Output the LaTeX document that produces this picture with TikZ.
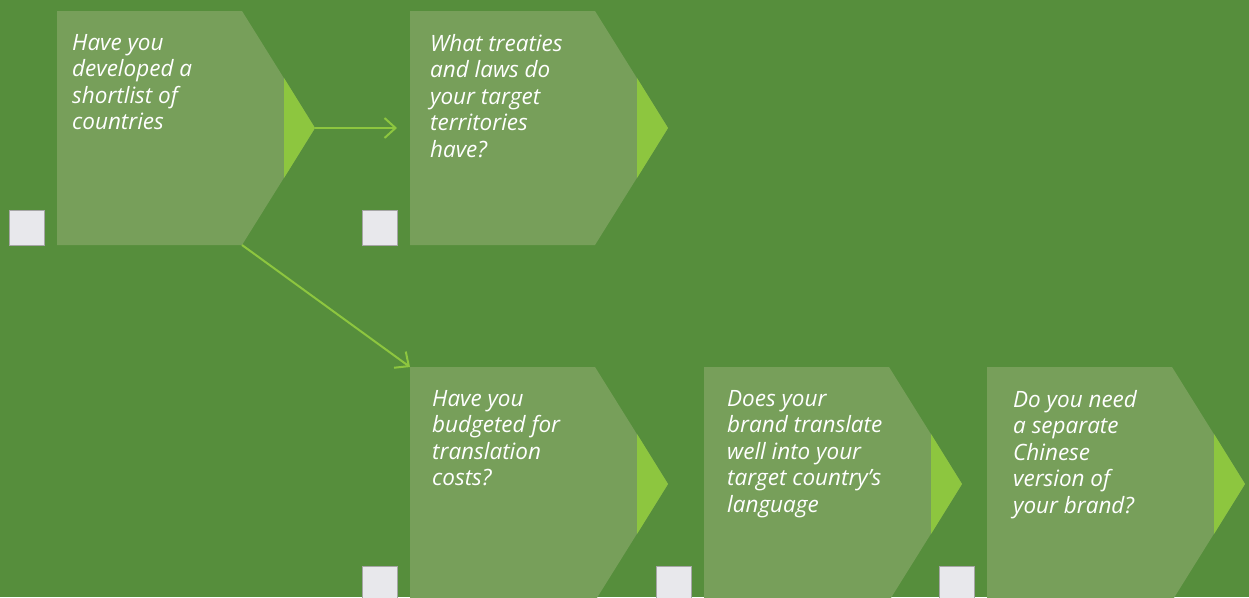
\documentclass[tikz,border=0pt]{standalone}
\usepackage{fontspec}
\setmainfont{Open Sans}
\usetikzlibrary{arrows.meta}
\definecolor{bggreen}{HTML}{568E3C}
\definecolor{boxgreen}{HTML}{779F5A}
\definecolor{tipgreen}{HTML}{8DC63F}
\definecolor{tickgray}{HTML}{E8E8EC}
\tikzset{
	qtext/.style={anchor=north west, inner sep=0pt, align=left, text=white,
		font=\itshape\fontsize{22.5}{26.5}\selectfont},
	tickbox/.style={fill=tickgray, draw=black!35, line width=0.8pt},
	flow/.style={draw=tipgreen, line width=2pt, -{Straight Barb[length=11pt,width=20pt,line width=2pt]}}
}
% #1 name, #2 x, #3 y of the top left corner, #4 text inset, #5 question
\newcommand{\question}[5]{%
	\fill[boxgreen] (#2,#3) -- ++(185,0) -- ++(73,117) -- ++(-73,117) -- ++(-185,0) -- cycle;
	\fill[tipgreen] (#2+227,#3+67) -- (#2+258,#3+117) -- (#2+227,#3+167) -- cycle;
	\draw[tickbox] (#2-48,#3+199) rectangle ++(35,35);
	\node[qtext] (#1) at (#2+#4,#3+23) {#5};
	\coordinate (#1-nw) at (#2,#3);
	\coordinate (#1-tip) at (#2+258,#3+117);
	\coordinate (#1-in) at (#2-13,#3+117);
	\coordinate (#1-se) at (#2+185,#3+234);
}

\begin{document}
\begin{tikzpicture}[x=1pt, y=-1pt]
	\fill[bggreen] (0,0) rectangle (1249,597);
	\useasboundingbox (0,0) rectangle (1249,597);

	\question{shortlist}{57}{11}{15}{Have you\\developed a\\shortlist of\\countries}
	\question{treaties}{410}{11}{20}{What treaties\\and laws do\\your target\\territories\\have?}
	\question{budget}{410}{367}{22}{Have you\\budgeted for\\translation\\costs?}
	\question{translate}{704}{367}{23}{Does your\\brand translate\\well into your\\target country’s\\language}
	\question{chinese}{987}{367}{26}{Do you need\\a separate\\Chinese\\version of\\your brand?}

	\draw[flow] (shortlist-tip) -- (treaties-in);
	\draw[flow] (shortlist-se) -- (budget-nw);
\end{tikzpicture}
\end{document}
